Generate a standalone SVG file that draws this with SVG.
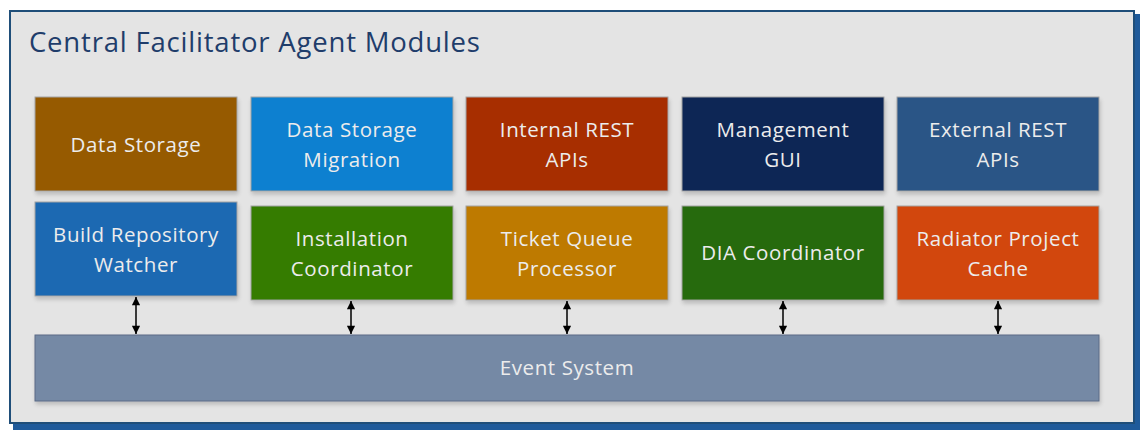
<svg xmlns="http://www.w3.org/2000/svg" width="1144" height="430" viewBox="0 0 1144 430">
  <defs>
    <style>
      .frame { fill: #e4e4e4; stroke: #1f4e79; stroke-width: 2; }
      .title { font-family: "Open Sans", "Noto Sans", sans-serif; font-size: 27.5px; fill: #1f3d6b; letter-spacing: 0.8px; }
      .box { stroke: #a3a3a3; stroke-width: 1; filter: url(#shadow); }
      .lbl { font-family: "Open Sans", "Noto Sans", sans-serif; font-size: 20.5px; fill: #ececec; text-anchor: middle; letter-spacing: 0.6px; }
      .link { stroke: #000; stroke-width: 1.5; fill: none; marker-start: url(#head); marker-end: url(#head); }
    </style>
    <filter id="shadow" x="-5%" y="-10%" width="115%" height="130%">
      <feGaussianBlur in="SourceAlpha" stdDeviation="2"/>
      <feOffset dx="1" dy="3" result="b"/>
      <feComponentTransfer><feFuncA type="linear" slope="0.18"/></feComponentTransfer>
      <feMerge><feMergeNode/><feMergeNode in="SourceGraphic"/></feMerge>
    </filter>
    <marker id="head" viewBox="0 0 10 10" refX="10" refY="5" markerWidth="6.5" markerHeight="5.5" orient="auto-start-reverse">
      <path d="M0,0 L10,5 L0,10 z" fill="#000"/>
    </marker>
  </defs>

  <!-- outer container -->
  <g id="container">
    <rect x="13" y="14" width="1127" height="416" fill="#1f5a9a"/>
    <rect class="frame" x="10" y="11" width="1124" height="412"/>
    <text class="title" x="29" y="52">Central Facilitator Agent Modules</text>
  </g>

  <!-- top row -->
  <g id="data-storage">
    <rect class="box" x="35" y="97" width="202" height="94" fill="#965a00"/>
    <text class="lbl" x="136" y="152">Data Storage</text>
  </g>
  <g id="data-storage-migration">
    <rect class="box" x="251" y="97" width="202" height="94" fill="#0a80d0"/>
    <text class="lbl" x="352" y="137">Data Storage</text>
    <text class="lbl" x="352" y="167">Migration</text>
  </g>
  <g id="internal-rest-apis">
    <rect class="box" x="466" y="97" width="202" height="94" fill="#a72f05"/>
    <text class="lbl" x="567" y="137">Internal REST</text>
    <text class="lbl" x="567" y="167">APIs</text>
  </g>
  <g id="management-gui">
    <rect class="box" x="682" y="97" width="202" height="94" fill="#0c2654"/>
    <text class="lbl" x="783" y="137">Management</text>
    <text class="lbl" x="783" y="167">GUI</text>
  </g>
  <g id="external-rest-apis">
    <rect class="box" x="897" y="97" width="202" height="94" fill="#2b5486"/>
    <text class="lbl" x="998" y="137">External REST</text>
    <text class="lbl" x="998" y="167">APIs</text>
  </g>

  <!-- second row -->
  <g id="build-repository-watcher">
    <rect class="box" x="35" y="202" width="202" height="94" fill="#1a69b2"/>
    <text class="lbl" x="136" y="242">Build Repository</text>
    <text class="lbl" x="136" y="272">Watcher</text>
  </g>
  <g id="installation-coordinator">
    <rect class="box" x="251" y="206" width="202" height="94" fill="#357c05"/>
    <text class="lbl" x="352" y="246">Installation</text>
    <text class="lbl" x="352" y="276">Coordinator</text>
  </g>
  <g id="ticket-queue-processor">
    <rect class="box" x="466" y="206" width="202" height="94" fill="#be7a00"/>
    <text class="lbl" x="567" y="246">Ticket Queue</text>
    <text class="lbl" x="567" y="276">Processor</text>
  </g>
  <g id="dia-coordinator">
    <rect class="box" x="682" y="206" width="202" height="94" fill="#266a08"/>
    <text class="lbl" x="783" y="260">DIA Coordinator</text>
  </g>
  <g id="radiator-project-cache">
    <rect class="box" x="897" y="206" width="202" height="94" fill="#d2470a"/>
    <text class="lbl" x="998" y="246">Radiator Project</text>
    <text class="lbl" x="998" y="276">Cache</text>
  </g>

  <!-- bus -->
  <g id="event-system">
    <rect class="box" x="35" y="335" width="1064" height="66" fill="#7589a5" style="stroke:#5b6b86"/>
    <text class="lbl" x="567" y="375">Event System</text>
  </g>

  <!-- module to bus connectors -->
  <g id="connectors">
    <line class="link" x1="136" y1="297" x2="136" y2="334"/>
    <line class="link" x1="351" y1="301" x2="351" y2="334"/>
    <line class="link" x1="567" y1="301" x2="567" y2="334"/>
    <line class="link" x1="783" y1="301" x2="783" y2="334"/>
    <line class="link" x1="998" y1="301" x2="998" y2="334"/>
  </g>
</svg>
